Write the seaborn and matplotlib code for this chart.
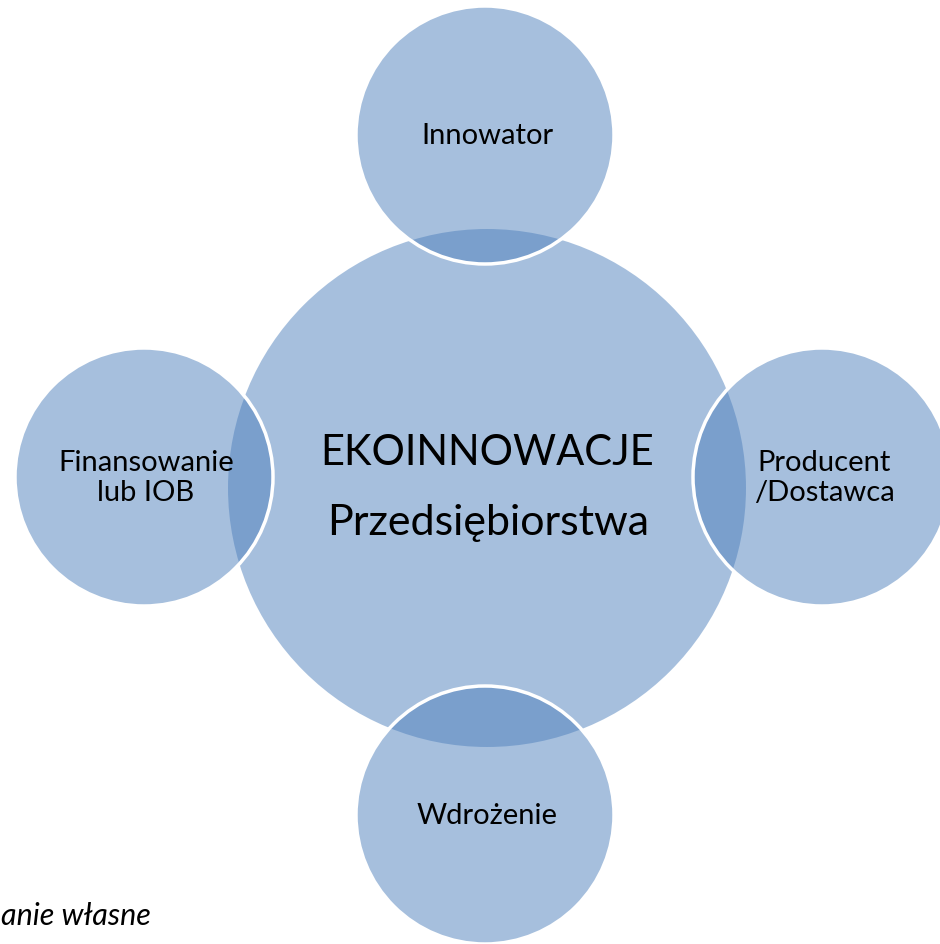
import matplotlib
matplotlib.use('Agg')
import matplotlib.pyplot as plt
from matplotlib.patches import Circle
import seaborn as sb

# diagram content
center_lines = ["EKOINNOWACJE", "Przedsiębiorstwa"]
satellite_labels = ["Innowator", "Producent\n/Dostawca", "Wdrożenie", "Finansowanie\nlub IOB"]
source_note = "anie własne"  # visible part of the (cut) source line

sb.set_theme(style="white")
plt.rcParams['font.family'] = ['Lato', 'DejaVu Sans']

fill = (79 / 255, 129 / 255, 189 / 255, 0.5)

fig = plt.figure(figsize=(9.4, 9.45), dpi=100)
ax = fig.add_axes([0, 0, 1, 1])
ax.set_xlim(0, 940)
ax.set_ylim(945, 0)
ax.set_aspect('equal')
ax.axis('off')

# central circle
ax.add_patch(Circle((487, 489), 259, facecolor=fill, edgecolor='none', zorder=1))
ax.text(487, 465, center_lines[0], fontsize=30, ha='center', va='baseline', color='black', zorder=5)
ax.text(488, 535, center_lines[1], fontsize=31, ha='center', va='baseline', color='black', zorder=5)

# satellites: top, right, bottom, left
spots = [(485, 136), (822, 478), (485, 816), (144, 478)]
for (cx, cy), lab in zip(spots, satellite_labels):
    ax.add_patch(Circle((cx, cy), 129, facecolor=fill, edgecolor='white', lw=2.5, zorder=2))
    ax.text(cx + 2, cy, lab, fontsize=21, ha='center', va='center', linespacing=1.15,
            color='black', zorder=5)

ax.text(1, 925, source_note, fontsize=22, style='italic', ha='left', va='baseline', color='black')

fig.savefig("out.png", dpi=100)
